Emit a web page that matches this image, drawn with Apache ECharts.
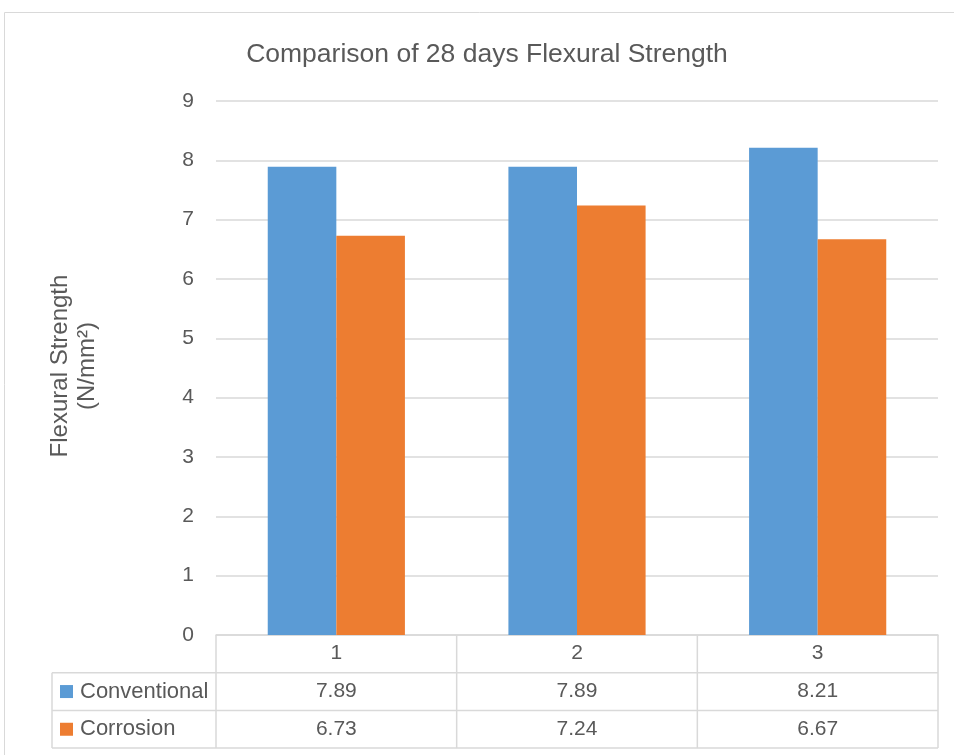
<!DOCTYPE html>
<html><head><meta charset="utf-8">
<script src="https://cdn.jsdelivr.net/npm/echarts@6/dist/echarts.min.js"></script>
<style>html,body{margin:0;padding:0;background:#fff}#c{width:954px;height:755px}</style>
</head><body><div id="c"></div>
<script>
var categories = ['1', '2', '3'];
var seriesNames = ['Conventional', 'Corrosion'];
var conventional = [7.89, 7.89, 8.21];
var corrosion = [6.73, 7.24, 6.67];
var yTicks = [0, 1, 2, 3, 4, 5, 6, 7, 8, 9];

var FONT = '"Liberation Sans", Arial, sans-serif';
var TXT = '#595959';
var LINE = '#d9d9d9';
var colors = ['#5B9BD5', '#ED7D31'];
var seriesData = [conventional, corrosion];

var chart = echarts.init(document.getElementById('c'));
var option = {
  animation: false,
  title: {
    text: 'Comparison of 28 days Flexural Strength',
    left: 482, top: 36, textAlign: 'center',
    textStyle: { fontFamily: FONT, fontSize: 26.5, fontWeight: 'normal', color: TXT }
  },
  grid: { left: 216, right: 16, top: 101, bottom: 120 },
  xAxis: {
    type: 'category', data: categories,
    axisLine: { lineStyle: { color: LINE, width: 1.5 } },
    axisTick: { show: false },
    axisLabel: { fontFamily: FONT, fontSize: 21, color: TXT, margin: 8 }
  },
  yAxis: {
    type: 'value', min: yTicks[0], max: yTicks[yTicks.length - 1], interval: 1,
    axisLine: { show: false }, axisTick: { show: false },
    axisLabel: { fontFamily: FONT, fontSize: 21, color: TXT, margin: 22 },
    splitLine: { lineStyle: { color: LINE, width: 1.5 } }
  },
  series: seriesNames.map(function (n, i) {
    return { name: n, type: 'bar', data: seriesData[i], barWidth: '28.5%', barGap: '0%',
      itemStyle: { color: colors[i] } };
  })
};
chart.setOption(option);

function buildTable() {
  var g = [];
  var x0 = chart.convertToPixel({ xAxisIndex: 0 }, categories[0]);
  var x1 = chart.convertToPixel({ xAxisIndex: 0 }, categories[1]);
  var step = x1 - x0;
  var yBase = chart.convertToPixel({ yAxisIndex: 0 }, 0);
  var left = x0 - step / 2, right = left + step * categories.length;
  var rowH = 37.7;
  var tableLeft = 52;
  var rows = [yBase, yBase + rowH, yBase + 2 * rowH, yBase + 3 * rowH];
  var ls = { stroke: LINE, lineWidth: 1.5 };
  for (var k = 0; k <= categories.length; k++) {
    var x = left + k * step;
    g.push({ type: 'line', shape: { x1: x, y1: rows[0], x2: x, y2: rows[3] }, style: ls, silent: true });
  }
  g.push({ type: 'line', shape: { x1: tableLeft, y1: rows[1], x2: tableLeft, y2: rows[3] }, style: ls });
  g.push({ type: 'line', shape: { x1: tableLeft, y1: rows[1], x2: right, y2: rows[1] }, style: ls });
  g.push({ type: 'line', shape: { x1: tableLeft, y1: rows[2], x2: right, y2: rows[2] }, style: ls });
  g.push({ type: 'line', shape: { x1: tableLeft, y1: rows[3], x2: right, y2: rows[3] }, style: ls });
  seriesNames.forEach(function (n, i) {
    var cy = rows[1 + i] + rowH / 2;
    g.push({ type: 'rect', shape: { x: 60, y: cy - 6.5, width: 13, height: 13 }, style: { fill: colors[i] } });
    g.push({ type: 'text', x: 80, y: cy, style: { text: n, font: '22px ' + FONT, fill: TXT, textAlign: 'left', textVerticalAlign: 'middle' } });
    seriesData[i].forEach(function (v, j) {
      g.push({ type: 'text', x: left + (j + 0.5) * step, y: cy, style: { text: v.toFixed(2), font: '21px ' + FONT, fill: TXT, textAlign: 'center', textVerticalAlign: 'middle' } });
    });
  });
  g.push({ type: 'text', x: 60, y: 366, rotation: Math.PI / 2,
    style: { text: 'Flexural Strength', font: '24px ' + FONT, fill: TXT, textAlign: 'center', textVerticalAlign: 'middle' } });
  g.push({ type: 'text', x: 87, y: 366, rotation: Math.PI / 2,
    style: { text: '(N/mm\u00b2)', font: '24px ' + FONT, fill: TXT, textAlign: 'center', textVerticalAlign: 'middle' } });
  g.push({ type: 'rect', shape: { x: 4.5, y: 12.5, width: 960, height: 760 }, style: { fill: 'none', stroke: LINE, lineWidth: 1 }, silent: true });
  chart.setOption({ graphic: g });
}
buildTable();
</script></body></html>
